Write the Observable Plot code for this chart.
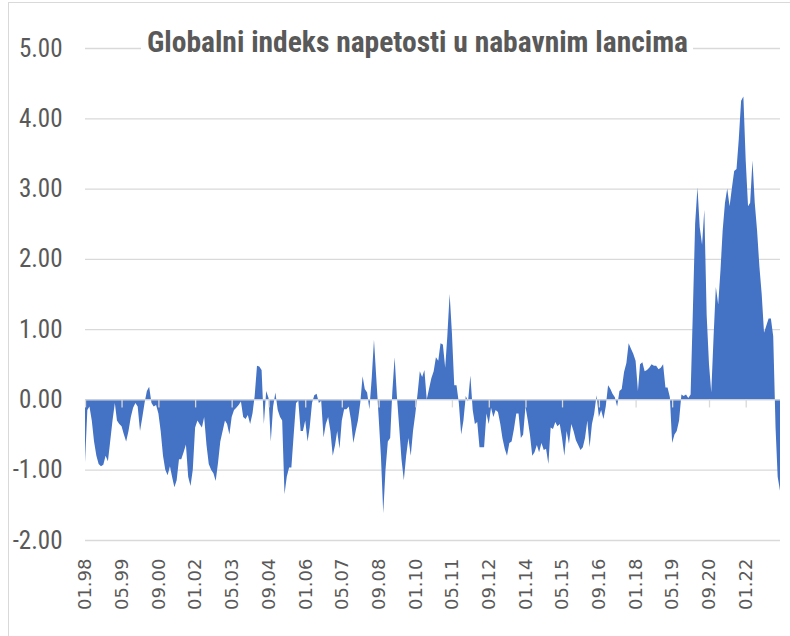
<!DOCTYPE html>
<html><head><meta charset="utf-8">
<script src="https://cdn.jsdelivr.net/npm/d3@7"></script>
<script src="https://cdn.jsdelivr.net/npm/@observablehq/plot@0.6"></script>
<style>body{margin:0;background:#fff}</style>
</head><body><div id="chart"></div>
<script>
const title = "Globalni indeks napetosti u nabavnim lancima";
const startMonth = "01.98";
// Monthly index values, Jan 1998 onward
const values1998_2004 = [
-0.9,-0.15,-0.1,-0.3,-0.6,-0.8,-0.92,-0.95,-0.93,-0.8,-0.88,-0.6,
-0.3,-0.05,-0.3,-0.35,-0.38,-0.5,-0.6,-0.45,-0.25,-0.12,-0.05,-0.1,
-0.45,-0.25,-0.05,0.12,0.18,-0.05,-0.1,-0.08,-0.2,-0.45,-0.8,-1.0,
-1.08,-0.95,-1.1,-1.25,-1.15,-0.85,-0.85,-0.75,-0.64,-1.1,-1.23,-1.0,
-0.4,-0.3,-0.35,-0.4,-0.25,-0.65,-0.92,-1.0,-1.05,-1.16,-0.9,-0.6,
-0.45,-0.3,-0.35,-0.5,-0.25,-0.15,-0.12,-0.08,-0.03,-0.25,-0.28,-0.22,
-0.35,-0.2,0.05,0.48,0.47,0.42,-0.35,0.12,0.02,-0.6,-0.1,0.1];
const values2005_2011 = [
-0.15,-0.25,-0.3,-1.35,-1.1,-0.97,-0.97,-0.5,-0.05,-0.02,-0.45,-0.45,
-0.3,-0.6,-0.4,-0.05,0.06,0.08,-0.05,-0.02,-0.54,-0.35,-0.25,-0.45,
-0.8,-0.65,-0.45,-0.7,-0.3,-0.14,-0.14,-0.1,-0.3,-0.62,-0.45,-0.3,
-0.05,0.33,0.15,0.1,-0.14,0.3,0.85,0.3,-0.25,-0.8,-1.62,-1.0,
-0.6,-0.55,0.1,0.6,0.05,-0.4,-0.85,-1.15,-0.8,-0.55,-0.8,-0.45,
-0.2,0.1,0.4,0.32,0.42,0.0,0.15,0.3,0.4,0.6,0.55,0.8,
0.78,0.45,0.9,1.5,0.95,0.2,0.2,-0.05,-0.5,-0.3,0.05,-0.03];
const values2012_2018 = [
0.34,-0.15,-0.35,-0.32,-0.68,-0.68,-0.68,-0.2,-0.35,-0.12,-0.25,-0.15,
-0.18,-0.35,-0.55,-0.7,-0.8,-0.62,-0.6,-0.42,-0.2,-0.2,-0.55,-0.5,
-0.1,-0.3,-0.5,-0.8,-0.75,-0.65,-0.75,-0.62,-0.72,-0.7,-0.92,-0.4,
-0.42,-0.32,-0.38,-0.35,-0.55,-0.8,-0.45,-0.63,-0.35,-0.45,-0.58,-0.65,
-0.72,-0.68,-0.55,-0.3,-0.68,-0.35,-0.2,0.06,-0.25,-0.15,-0.28,-0.1,
0.2,0.15,0.08,0.03,-0.1,0.12,0.15,0.39,0.52,0.8,0.72,0.65,
0.55,0.12,0.5,0.53,0.4,0.42,0.45,0.5,0.48,0.48,0.43,0.45];
const values2019_2023 = [
0.5,0.17,0.17,0.03,-0.62,-0.5,-0.45,-0.3,0.07,0.05,0.07,0.02,
0.07,1.3,2.5,3.02,2.45,2.2,2.7,1.2,0.5,0.1,0.9,1.6,
1.35,1.85,2.4,2.8,3.0,2.75,3.0,3.25,3.28,3.7,4.25,4.31,
3.4,2.75,2.8,3.4,2.8,2.4,1.9,1.5,0.95,1.05,1.15,1.15,
0.9,-0.4,-1.1,-1.3];
const values = [...values1998_2004, ...values2005_2011, ...values2012_2018, ...values2019_2023];
const xTickLabels = ["01.98","05.99","09.00","01.02","05.03","09.04","01.06","05.07","09.08","01.10","05.11","09.12","01.14","05.15","09.16","01.18","05.19","09.20","01.22"];
const yTicks = [-2,-1,0,1,2,3,4,5];

const parse = d3.timeParse("%m.%y");
const start = parse(startMonth);
const data = values.map((v,i)=>({date: d3.timeMonth.offset(start,i), value: v}));
const xTicks = xTickLabels.map(parse);
const labelOf = new Map(xTickLabels.map(s=>[+parse(s), s]));

const W=790, H=636, mt=48, mb=96, ml=85, mr=10;
const tickLen = 8 * (yTicks[yTicks.length-1]-yTicks[0]) / (H - mt - mb);
const grid="#d9d9d9", ink="#595959", blue="#4472C4";
const narrow = "'Liberation Sans Narrow', 'Roboto Condensed', 'Liberation Sans', sans-serif";

const chart = Plot.plot({
  width: W, height: H, marginTop: mt, marginBottom: mb, marginLeft: ml, marginRight: mr,
  style: {background: "white", fontFamily: "DejaVu Sans"},
  x: {type: "time", domain: [data[0].date, data[data.length-1].date]},
  y: {domain: [yTicks[0], yTicks[yTicks.length-1]]},
  marks: [
    Plot.ruleY(yTicks.filter(d=>d!==0), {stroke: grid, strokeWidth: 1.3}),
    Plot.areaY(data, {x: "date", y: "value", fill: blue}),
    Plot.ruleY([0], {stroke: grid, strokeWidth: 1.3}),
    Plot.ruleX(xTicks, {x: d=>d, y1: 0, y2: -tickLen, stroke: grid, strokeWidth: 1.3}),
    Plot.axisY({ticks: yTicks, tickFormat: d=>d.toFixed(2), tickSize: 0, tickPadding: 23,
      fontSize: 25, fontFamily: narrow, fill: ink, label: null}),
    Plot.axisX({ticks: xTicks, tickFormat: d=>labelOf.get(+d), tickRotate: -90, tickSize: 0,
      tickPadding: 18, fontSize: 18, fontFamily: "DejaVu Sans", fill: ink, label: null})
  ]
});

const svg = d3.select(chart);
svg.append("rect").attr("x", 8.5).attr("y", 2.5).attr("width", W).attr("height", H)
  .attr("fill", "none").attr("stroke", grid).attr("stroke-width", 1);
svg.append("rect").attr("x", 141).attr("y", 26).attr("width", 552).attr("height", 36).attr("fill", "white");
svg.append("text").attr("x", 147).attr("y", 52).attr("text-anchor", "start")
  .attr("font-family", narrow).attr("font-weight", "bold").attr("font-size", 30)
  .attr("fill", ink).attr("textLength", 541).attr("lengthAdjust", "spacingAndGlyphs")
  .text(title);
document.getElementById("chart").appendChild(chart);
</script>
</body></html>
